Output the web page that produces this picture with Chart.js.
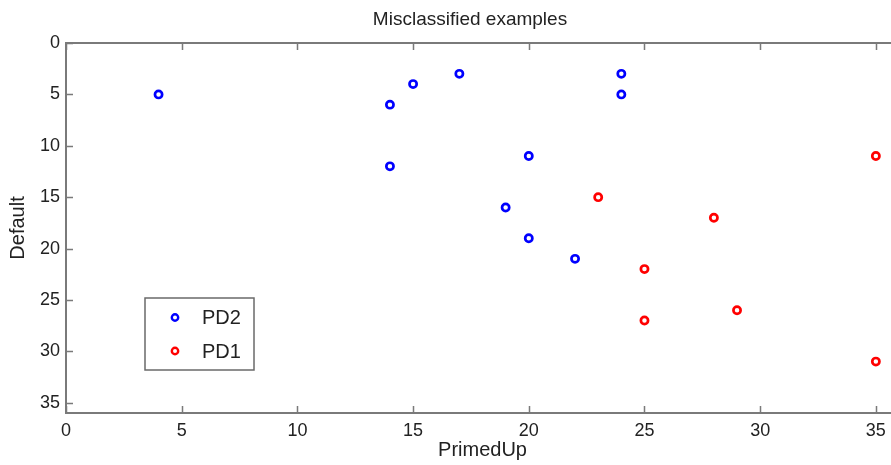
<!DOCTYPE html>
<html>
<head>
<meta charset="utf-8">
<script src="https://cdn.jsdelivr.net/npm/chart.js@4/dist/chart.umd.min.js"></script>
<style>
html,body{margin:0;padding:0;background:#fff;overflow:hidden;width:891px;height:465px;}
canvas{display:block;}
</style>
</head>
<body>
<canvas id="c" width="940" height="465"></canvas>
<script>
const titleText = "Misclassified examples";
const xTitle = "PrimedUp";
const yTitle = "Default";
const xTicks = [0, 5, 10, 15, 20, 25, 30, 35];
const yTicks = [0, 5, 10, 15, 20, 25, 30, 35];
const pd2X = [4, 14, 15, 17, 24, 24, 14, 20, 19, 20, 22];
const pd2Y = [5, 6, 4, 3, 3, 5, 12, 11, 16, 19, 21];
const pd1X = [23, 28, 35, 25, 25, 29, 35];
const pd1Y = [15, 17, 11, 22, 27, 26, 31];

const AX = '#7a7a7a';
const TXT = '#222222';
const FONT = '"Liberation Sans", Arial, sans-serif';

const titleShift = {
  id: 'titleShift',
  afterLayout(chart) {
    const t = chart.titleBlock;
    if (t) {
      const d = 470 - (t.left + t.right) / 2;
      t.left += d; t.right += d;
    }
  }
};

const boxPlugin = {
  id: 'box',
  afterDraw(chart) {
    const ctx = chart.ctx, a = chart.chartArea;
    const xs = chart.scales.x, ys = chart.scales.y;
    ctx.save();
    ctx.strokeStyle = AX;
    ctx.lineWidth = 2;
    ctx.strokeRect(a.left, a.top, a.right - a.left, a.bottom - a.top);
    const L = 7;
    ctx.beginPath();
    xTicks.forEach(v => {
      const p = Math.round(xs.getPixelForValue(v)) + 0.5;
      ctx.moveTo(p, a.bottom); ctx.lineTo(p, a.bottom - L);
      ctx.moveTo(p, a.top); ctx.lineTo(p, a.top + L);
    });
    yTicks.forEach(v => {
      const p = Math.round(ys.getPixelForValue(v)) + 0.5;
      ctx.moveTo(a.left, p); ctx.lineTo(a.left + L, p);
      ctx.moveTo(a.right, p); ctx.lineTo(a.right - L, p);
    });
    ctx.lineWidth = 1.5;
    ctx.stroke();

    // legend box
    const bx = 145, by = 298, bw = 109, bh = 72;
    ctx.fillStyle = '#fff';
    ctx.fillRect(bx, by, bw, bh);
    ctx.lineWidth = 1.5;
    ctx.strokeStyle = '#6a6a6a';
    ctx.strokeRect(bx, by, bw, bh);
    chart.data.datasets.forEach((ds, i) => {
      const cy = by + 19.5 + i * 33.5;
      ctx.beginPath();
      ctx.arc(bx + 30, cy, 3.2, 0, Math.PI * 2);
      ctx.fillStyle = '#fff';
      ctx.fill();
      ctx.lineWidth = 2.4;
      ctx.strokeStyle = ds.borderColor;
      ctx.stroke();
      ctx.fillStyle = TXT;
      ctx.font = '20px ' + FONT;
      ctx.textBaseline = 'middle';
      ctx.textAlign = 'left';
      ctx.fillText(ds.label, bx + 57, cy + 1);
    });
    ctx.restore();
  }
};

new Chart(document.getElementById('c'), {
  type: 'scatter',
  data: {
    datasets: [
      {
        label: 'PD2',
        data: pd2X.map((x, i) => ({x: x, y: pd2Y[i]})),
        borderColor: '#0000ff',
        backgroundColor: '#ffffff',
        pointRadius: 3.6,
        pointBorderWidth: 2.7
      },
      {
        label: 'PD1',
        data: pd1X.map((x, i) => ({x: x, y: pd1Y[i]})),
        borderColor: '#ff0000',
        backgroundColor: '#ffffff',
        pointRadius: 3.6,
        pointBorderWidth: 2.7
      }
    ]
  },
  options: {
    responsive: false,
    animation: false,
    layout: {padding: {left: 0, right: 41, top: 0, bottom: 0}},
    plugins: {
      legend: {display: false},
      tooltip: {enabled: false},
      title: {
        display: true,
        text: titleText,
        color: TXT,
        font: {family: FONT, size: 19, weight: 'normal'},
        padding: {top: 8.6, bottom: 11.6}
      }
    },
    scales: {
      x: {
        type: 'linear',
        min: 0, max: 36,
        afterBuildTicks: s => { s.ticks = xTicks.map(v => ({value: v})); },
        afterFit: s => { s.height = 52; },
        grid: {display: false, drawTicks: false},
        border: {display: false},
        ticks: {color: TXT, font: {family: FONT, size: 18}, padding: 7, maxRotation: 0},
        title: {display: true, text: xTitle, color: TXT, font: {family: FONT, size: 20}, padding: {top: 0, bottom: 3}}
      },
      y: {
        type: 'linear',
        reverse: true,
        min: 0, max: 36,
        afterBuildTicks: s => { s.ticks = yTicks.map(v => ({value: v})); },
        afterFit: s => { s.width = 66; },
        grid: {display: false, drawTicks: false},
        border: {display: false},
        ticks: {color: TXT, font: {family: FONT, size: 18}, padding: 6},
        title: {display: true, text: yTitle, color: TXT, font: {family: FONT, size: 20}, padding: {top: 6.5, bottom: 0}}
      }
    }
  },
  plugins: [titleShift, boxPlugin]
});
</script>
</body>
</html>
